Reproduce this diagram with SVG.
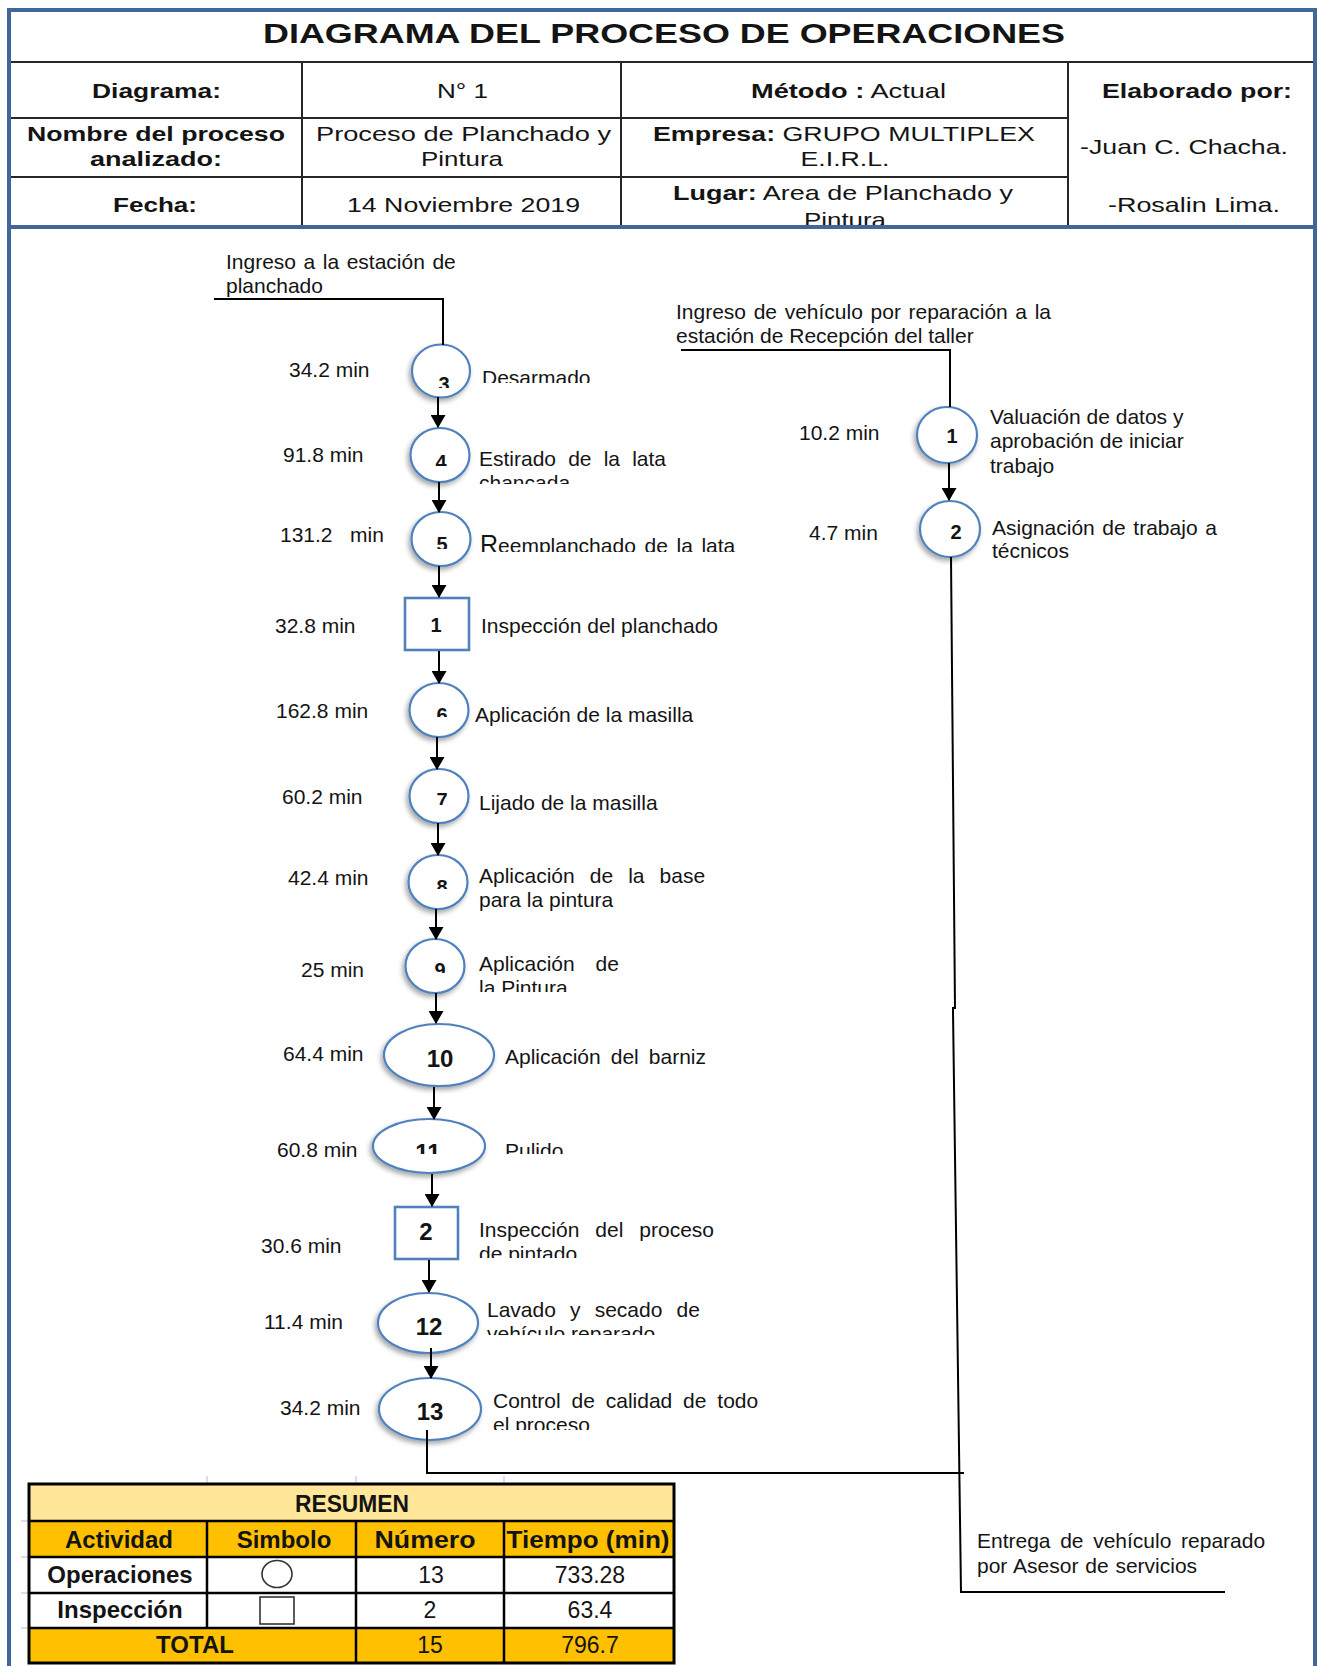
<svg xmlns="http://www.w3.org/2000/svg" width="1318" height="1666" viewBox="0 0 1318 1666">
<style>
text{font-family:"Liberation Sans",Arial,sans-serif;fill:#141414}
.hd{font-size:21px}
.tt{font-size:28px;font-weight:bold}
.b{font-weight:bold}
.lbl{font-size:21px}
.tm{font-size:21px}
.num{font-size:20px;font-weight:bold;text-anchor:middle}
.big{font-size:24px;font-weight:bold;text-anchor:middle}
.op{fill:#fff;stroke:#4F81BD;stroke-width:2.2;filter:url(#sh)}
.insp{fill:#fff;stroke:#4F81BD;stroke-width:2.6}
.frame{stroke:#41679A;stroke-width:4;fill:none}
.grid{stroke:#262626;stroke-width:2;fill:none}
.con{stroke:#000;stroke-width:2;fill:none}
.arr{stroke:#000;stroke-width:2;fill:none;marker-end:url(#ah)}
.tb{font-size:24px;font-weight:bold;text-anchor:middle}
.tv{font-size:23px;text-anchor:middle}
.tl{stroke:#000;stroke-width:2.5;fill:none}
.faint{stroke:#d4d4d4;stroke-width:1.5}
</style>
<defs>
<marker id="ah" markerUnits="userSpaceOnUse" markerWidth="13" markerHeight="15" refX="12" refY="7.5" orient="auto" viewBox="0 0 13 15">
<path d="M0,0 L13,7.5 L0,15 z" fill="#000"/>
</marker>
<filter id="sh" x="-30%" y="-30%" width="160%" height="170%">
<feDropShadow dx="-2" dy="3" stdDeviation="2.5" flood-color="#000" flood-opacity="0.35"/>
</filter>
<!-- text boxes that cut their contents at the bottom -->
<clipPath id="k3"><rect x="420" y="365" width="50" height="23"/></clipPath>
<clipPath id="k4"><rect x="420" y="445" width="50" height="21"/></clipPath>
<clipPath id="k5"><rect x="420" y="525" width="50" height="24"/></clipPath>
<clipPath id="k6"><rect x="420" y="700" width="50" height="17"/></clipPath>
<clipPath id="k7"><rect x="420" y="785" width="50" height="20"/></clipPath>
<clipPath id="k8"><rect x="420" y="870" width="50" height="19"/></clipPath>
<clipPath id="k9"><rect x="415" y="955" width="50" height="18"/></clipPath>
<clipPath id="k11"><rect x="400" y="1135" width="60" height="19"/></clipPath>
<clipPath id="cDes"><rect x="470" y="355" width="150" height="28"/></clipPath>
<clipPath id="cCha"><rect x="470" y="470" width="120" height="14"/></clipPath>
<clipPath id="cRee"><rect x="470" y="525" width="290" height="27"/></clipPath>
<clipPath id="cPin"><rect x="470" y="975" width="120" height="17"/></clipPath>
<clipPath id="cPul"><rect x="495" y="1135" width="90" height="19"/></clipPath>
<clipPath id="cDep"><rect x="470" y="1243" width="140" height="15"/></clipPath>
<clipPath id="cVeh"><rect x="480" y="1320" width="220" height="15"/></clipPath>
<clipPath id="cElp"><rect x="485" y="1413" width="130" height="17"/></clipPath>
<clipPath id="cHdr"><rect x="620" y="178" width="448" height="47"/></clipPath>
</defs>

<!-- header block -->
<g id="header">
<text class="tt" x="263" y="43" textLength="802" lengthAdjust="spacingAndGlyphs">DIAGRAMA DEL PROCESO DE OPERACIONES</text>
<text class="hd b" x="92" y="98" textLength="129" lengthAdjust="spacingAndGlyphs">Diagrama:</text>
<text class="hd" x="437" y="98" textLength="51" lengthAdjust="spacingAndGlyphs">N° 1</text>
<text class="hd" x="751" y="98" textLength="195" lengthAdjust="spacingAndGlyphs"><tspan class="b">Método :</tspan> Actual</text>
<text class="hd b" x="1102" y="98" textLength="190" lengthAdjust="spacingAndGlyphs">Elaborado por:</text>
<text class="hd b" x="27" y="141" textLength="258" lengthAdjust="spacingAndGlyphs">Nombre del proceso</text>
<text class="hd b" x="90" y="166" textLength="132" lengthAdjust="spacingAndGlyphs">analizado:</text>
<text class="hd" x="316" y="141" textLength="295" lengthAdjust="spacingAndGlyphs">Proceso de Planchado y</text>
<text class="hd" x="462" y="166" text-anchor="middle" textLength="82" lengthAdjust="spacingAndGlyphs">Pintura</text>
<text class="hd" x="653" y="141" textLength="382" lengthAdjust="spacingAndGlyphs"><tspan class="b">Empresa:</tspan> GRUPO MULTIPLEX</text>
<text class="hd" x="845" y="166" text-anchor="middle" textLength="89" lengthAdjust="spacingAndGlyphs">E.I.R.L.</text>
<text class="hd" x="1080" y="154" textLength="208" lengthAdjust="spacingAndGlyphs">-Juan C. Chacha.</text>
<text class="hd b" x="113" y="212" textLength="84" lengthAdjust="spacingAndGlyphs">Fecha:</text>
<text class="hd" x="347" y="212" textLength="233" lengthAdjust="spacingAndGlyphs">14 Noviembre 2019</text>
<text class="hd" x="673" y="200" textLength="340" lengthAdjust="spacingAndGlyphs"><tspan class="b">Lugar:</tspan> Area de Planchado y</text>
<g clip-path="url(#cHdr)"><text class="hd" x="845" y="227" text-anchor="middle" textLength="82" lengthAdjust="spacingAndGlyphs">Pintura</text></g>
<text class="hd" x="1108" y="212" textLength="172" lengthAdjust="spacingAndGlyphs">-Rosalin Lima.</text>
<path class="grid" d="M9,62 H1315 M9,118 H1068 M9,177 H1068 M302,62 V227 M621,62 V227 M1068,62 V227"/>
</g>

<!-- outer frame -->
<path class="frame" d="M9,1666 V10 H1315 V1666 M9,227 H1315"/>

<!-- entry / exit notes -->
<g id="entry-left">
<text class="lbl" x="226" y="269" word-spacing="1.7">Ingreso a la estación de</text>
<text class="lbl" x="226" y="293">planchado</text>
</g>
<g id="entry-right">
<text class="lbl" x="676" y="319" word-spacing="1.8">Ingreso de vehículo por reparación a la</text>
<text class="lbl" x="676" y="343">estación de Recepción del taller</text>
</g>
<g id="exit">
<text class="lbl" x="977" y="1548" word-spacing="3.8">Entrega de vehículo reparado</text>
<text class="lbl" x="977" y="1573" word-spacing="1">por Asesor de servicios</text>
</g>

<!-- operations and inspections, left line -->
<g id="op3">
<ellipse class="op" cx="441" cy="371" rx="29" ry="26.5"/>
<g clip-path="url(#k3)"><text class="num" x="444" y="391">3</text></g>
<text class="tm" x="289" y="377">34.2 min</text>
<g clip-path="url(#cDes)"><text class="lbl" x="482" y="385">Desarmado</text></g>
</g>
<g id="op4">
<ellipse class="op" cx="440" cy="455" rx="29.5" ry="27"/>
<g clip-path="url(#k4)"><text class="num" x="441" y="469">4</text></g>
<text class="tm" x="283" y="462">91.8 min</text>
<text class="lbl" x="479" y="466" word-spacing="6.3">Estirado de la lata</text>
<g clip-path="url(#cCha)"><text class="lbl" x="479" y="490">chancada</text></g>
</g>
<g id="op5">
<ellipse class="op" cx="441" cy="539" rx="29.5" ry="27"/>
<g clip-path="url(#k5)"><text class="num" x="442" y="551">5</text></g>
<text class="tm" x="280" y="542" xml:space="preserve">131.2   min</text>
<g clip-path="url(#cRee)"><text class="lbl" x="480" y="553" word-spacing="2.8"><tspan font-size="25">R</tspan>eemplanchado de la lata</text></g>
</g>
<g id="insp1">
<rect class="insp" x="405" y="598" width="64" height="52"/>
<text class="num" x="436" y="632" font-size="22">1</text>
<text class="tm" x="275" y="633">32.8 min</text>
<text class="lbl" x="481" y="633">Inspección del planchado</text>
</g>
<g id="op6">
<ellipse class="op" cx="439" cy="710" rx="29.5" ry="27"/>
<g clip-path="url(#k6)"><text class="num" x="442" y="722">6</text></g>
<text class="tm" x="276" y="718">162.8 min</text>
<text class="lbl" x="475" y="722">Aplicación de la masilla</text>
</g>
<g id="op7">
<ellipse class="op" cx="439" cy="796" rx="29.5" ry="27"/>
<g clip-path="url(#k7)"><text class="num" x="442" y="807">7</text></g>
<text class="tm" x="282" y="804">60.2 min</text>
<text class="lbl" x="479" y="810">Lijado de la masilla</text>
</g>
<g id="op8">
<ellipse class="op" cx="438" cy="882" rx="29.5" ry="27"/>
<g clip-path="url(#k8)"><text class="num" x="442" y="894">8</text></g>
<text class="tm" x="288" y="885">42.4 min</text>
<text class="lbl" x="479" y="883" word-spacing="9.2">Aplicación de la base</text>
<text class="lbl" x="479" y="907">para la pintura</text>
</g>
<g id="op9">
<ellipse class="op" cx="435" cy="966" rx="29.5" ry="27"/>
<g clip-path="url(#k9)"><text class="num" x="440" y="977">9</text></g>
<text class="tm" x="301" y="977">25 min</text>
<text class="lbl" x="479" y="971" word-spacing="15">Aplicación de</text>
<g clip-path="url(#cPin)"><text class="lbl" x="479" y="995">la Pintura</text></g>
</g>
<g id="op10">
<ellipse class="op" cx="439" cy="1055" rx="55" ry="31"/>
<text class="big" x="440" y="1067">10</text>
<text class="tm" x="283" y="1061">64.4 min</text>
<text class="lbl" x="505" y="1064" word-spacing="4.2">Aplicación del barniz</text>
</g>
<g id="op11">
<ellipse class="op" cx="429" cy="1146" rx="56" ry="27"/>
<g clip-path="url(#k11)"><text class="big" x="428" y="1161">11</text></g>
<text class="tm" x="277" y="1157">60.8 min</text>
<g clip-path="url(#cPul)"><text class="lbl" x="505" y="1158">Pulido</text></g>
</g>
<g id="insp2">
<rect class="insp" x="395" y="1207" width="63" height="52"/>
<text class="big" x="426" y="1240">2</text>
<text class="tm" x="261" y="1253">30.6 min</text>
<text class="lbl" x="479" y="1237" word-spacing="10.1">Inspección del proceso</text>
<g clip-path="url(#cDep)"><text class="lbl" x="479" y="1261">de pintado</text></g>
</g>
<g id="op12">
<ellipse class="op" cx="428" cy="1323" rx="50" ry="30"/>
<text class="big" x="429" y="1335">12</text>
<text class="tm" x="264" y="1329">11.4 min</text>
<text class="lbl" x="487" y="1317" word-spacing="8.3">Lavado y secado de</text>
<g clip-path="url(#cVeh)"><text class="lbl" x="487" y="1341">vehículo reparado</text></g>
</g>
<g id="op13">
<ellipse class="op" cx="430" cy="1409" rx="51" ry="31"/>
<text class="big" x="430" y="1420">13</text>
<text class="tm" x="280" y="1415">34.2 min</text>
<text class="lbl" x="493" y="1408" word-spacing="5">Control de calidad de todo</text>
<g clip-path="url(#cElp)"><text class="lbl" x="493" y="1432">el proceso</text></g>
</g>

<!-- reception line, right -->
<g id="op1">
<ellipse class="op" cx="947" cy="435" rx="30" ry="28"/>
<text class="num" x="952" y="443" font-size="18">1</text>
<text class="tm" x="799" y="440">10.2 min</text>
<text class="lbl" x="990" y="424">Valuación de datos y</text>
<text class="lbl" x="990" y="448">aprobación de iniciar</text>
<text class="lbl" x="990" y="473">trabajo</text>
</g>
<g id="op2">
<ellipse class="op" cx="950" cy="529" rx="30" ry="28"/>
<text class="num" x="956" y="539">2</text>
<text class="tm" x="809" y="540">4.7 min</text>
<text class="lbl" x="992" y="535" word-spacing="1.8">Asignación de trabajo a</text>
<text class="lbl" x="992" y="558">técnicos</text>
</g>

<!-- connectors -->
<g id="connectors">
<polyline class="con" points="214,299 443,299 443,345"/>
<polyline class="con" points="681,350 950,350 950,407"/>
<line class="arr" x1="438" y1="397" x2="438" y2="427"/>
<line class="arr" x1="439" y1="482" x2="439" y2="512"/>
<line class="arr" x1="439" y1="566" x2="439" y2="597"/>
<line class="arr" x1="439" y1="651" x2="439" y2="683"/>
<line class="arr" x1="437" y1="737" x2="437" y2="769"/>
<line class="arr" x1="438" y1="823" x2="438" y2="855"/>
<line class="arr" x1="436" y1="909" x2="436" y2="939"/>
<line class="arr" x1="436" y1="993" x2="436" y2="1023"/>
<line class="arr" x1="434" y1="1087" x2="434" y2="1119"/>
<line class="arr" x1="432" y1="1174" x2="432" y2="1206"/>
<line class="arr" x1="429" y1="1260" x2="429" y2="1292"/>
<line class="arr" x1="431" y1="1348" x2="431" y2="1378"/>
<line class="arr" x1="949" y1="463" x2="949" y2="500"/>
<polyline class="con" points="427,1430 427,1473 964,1473"/>
<polyline class="con" points="951,557 955,1009"/>
<line class="con" x1="953" y1="1007" x2="953" y2="1015" stroke-width="3.5"/>
<polyline class="con" points="953,1011 961,1592 1225,1592"/>
</g>

<!-- summary table -->
<g id="resumen">
<rect x="29" y="1484" width="645" height="37" fill="#FFE699"/>
<rect x="29" y="1521" width="645" height="36" fill="#FFC000"/>
<rect x="29" y="1557" width="645" height="71" fill="#fff"/>
<rect x="29" y="1628" width="645" height="35" fill="#FFC000"/>
<path class="faint" d="M207,1476 V1484 M356,1476 V1484 M504,1476 V1484 M21,1521 H29 M21,1557 H29 M21,1593 H29 M21,1628 H29"/>
<path class="tl" d="M29,1521 H674 M29,1557 H674 M29,1593 H674 M29,1628 H674 M207,1521 V1628 M356,1521 V1663 M504,1521 V1663"/>
<rect x="29" y="1484" width="645" height="179" fill="none" stroke="#000" stroke-width="3"/>
<text class="tb" x="352" y="1512" font-size="23" textLength="114" lengthAdjust="spacingAndGlyphs">RESUMEN</text>
<text class="tb" x="119" y="1548">Actividad</text>
<text class="tb" x="284" y="1548">Simbolo</text>
<text class="tb" x="425" y="1548" textLength="101" lengthAdjust="spacingAndGlyphs">Número</text>
<text class="tb" x="588" y="1548" textLength="163" lengthAdjust="spacingAndGlyphs">Tiempo (min)</text>
<text class="tb" x="120" y="1583">Operaciones</text>
<ellipse cx="277" cy="1574" rx="15" ry="13.5" fill="#fff" stroke="#333" stroke-width="1.6"/>
<text class="tv" x="431" y="1583">13</text>
<text class="tv" x="590" y="1583">733.28</text>
<text class="tb" x="120" y="1618">Inspección</text>
<rect x="260" y="1597" width="34" height="27" fill="#fff" stroke="#333" stroke-width="1.6"/>
<text class="tv" x="430" y="1618">2</text>
<text class="tv" x="590" y="1618">63.4</text>
<text class="tb" x="195" y="1653" font-size="23">TOTAL</text>
<text class="tv" x="430" y="1653">15</text>
<text class="tv" x="590" y="1653">796.7</text>
</g>
</svg>
